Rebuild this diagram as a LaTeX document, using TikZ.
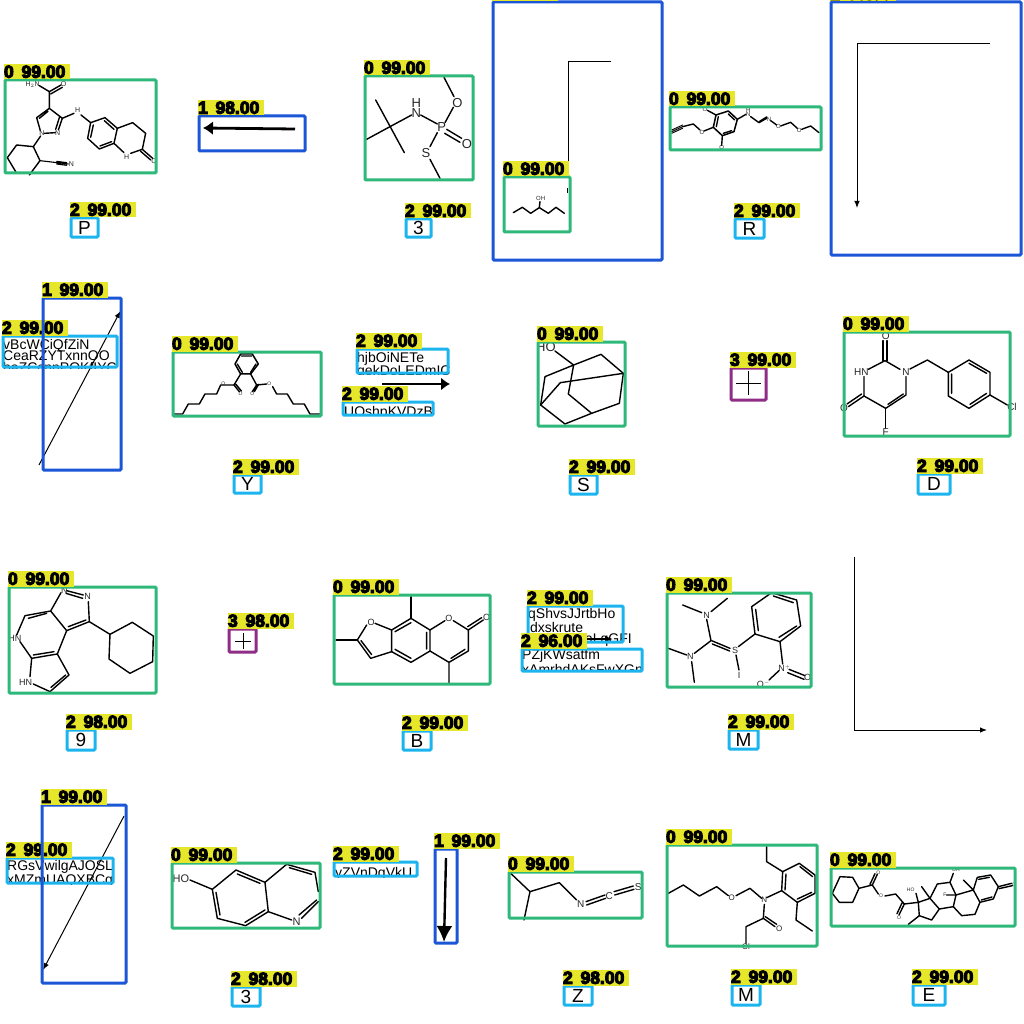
\documentclass[tikz,border=0pt]{standalone}
\usepackage{fontspec}
\setmainfont{Liberation Sans}
\newfontfamily\scorefont[FakeBold=6]{Liberation Sans Bold}
\usetikzlibrary{arrows.meta, positioning}
\definecolor{molgreen}{RGB}{46,184,122}
\definecolor{arrblue}{RGB}{26,86,214}
\definecolor{txtcyan}{RGB}{28,180,238}
\definecolor{plusviolet}{RGB}{142,44,134}
\definecolor{tagyellow}{RGB}{230,230,42}
\tikzset{%
  detect/.style={draw, line width=3pt, inner sep=0pt, outer sep=0pt, rounded corners=1pt},
  molbox/.style={detect, draw=molgreen},
  arrbox/.style={detect, draw=arrblue},
  txtbox/.style={detect, draw=txtcyan},
  plusbox/.style={detect, draw=plusviolet},
  scoretag/.style={fill=tagyellow, inner sep=0pt, outer sep=0pt, anchor=south west, xshift=-1pt, yshift=.5pt,
    minimum height=15.5pt, text width=66pt, align=left,
    font=\scorefont\fontsize{17.5}{17.5}\selectfont},
  letter/.style={inner sep=0pt, font=\fontsize{19}{19}\selectfont},
  txtline/.style={inner sep=0pt, anchor=base west, font=\fontsize{14}{14}\selectfont},
  atom/.style={inner sep=0pt, text=black!85, font=\fontsize{#1}{#1}\selectfont},
  crop/.style 2 args={shift={(#1,#2)}, x=0.3333pt, y=-0.3333pt},
  bond/.style={line width=#1, line cap=round, line join=round},
  bond/.default=1.4pt,
  thinarr/.style={line width=1pt, -{Latex[length=7pt,width=5.5pt]}}
}
% box from its corners, with the score tag sitting on its top left corner
\newcommand{\detbox}[7]{%
  \node[#2, minimum width={(#5-#3-2)*1pt}, minimum height={(#6-#4-2)*1pt}] (#1) at ({(#3+#5)/2},{(#4+#6)/2}) {};
  \node[scoretag] (#1t) at (#1.north west) {#7};
}
\begin{document}
\begin{tikzpicture}[x=1pt, y=-1pt]
\useasboundingbox[fill=white] (0,0) rectangle (1024,1024);

% row 1
\begin{scope}[crop={0}{50}, every node/.style={atom=7}]
\draw[bond] (118,107) -- (148,125) -- (183,105) (152,132) -- (187,112);
\draw[bond] (148,125) -- (148,175) -- (187,205) -- (175,240) (178,203) -- (167,238);
\draw[bond] (148,175) -- (110,203) -- (121,242) (144,184) -- (118,205);
\draw[bond] (166,248) -- (133,250);
\draw[bond] (187,205) -- (222,190) (243,195) -- (272,218);
\draw[bond] (272,218) -- (315,203) -- (352,235) -- (342,280) -- (298,297) -- (263,265) -- cycle;
\draw[bond] (313,212) -- (342,238) (335,275) -- (300,288) (280,225) -- (272,262);
\draw[bond] (352,235) -- (398,218) -- (437,250) -- (427,298) -- (392,310) (372,308) -- (342,280);
\draw[bond] (427,298) -- (458,325) (422,304) -- (452,330);
\draw[bond] (122,258) -- (100,290) -- (50,285) -- (22,323) -- (50,370) (88,375) -- (120,332) -- (100,290);
\draw[bond=1.1pt] (120,332) -- (205,342) (170,334) -- (200,338) (170,342) -- (200,346);
\node (m1a) at (98,105) {H$_{\scriptscriptstyle 2}$N};
\node (m1b) at (191,103) {O};
\node (m1c) at (126,250) {N};
\node (m1d) at (173,249) {N};
\node (m1e) at (233,180) {H};
\node (m1f) at (380,322) {H};
\node (m1g) at (462,332) {O};
\node (m1h) at (214,343) {N};
\end{scope}
\detbox{m1}{molbox}{4}{79}{157}{174}{0\hspace{2pt} 99.00}

\coordinate (a1s) at (295,129);
\coordinate (a1e) at (203,128);
\draw[line width=2.8pt, -{Latex[length=10pt,width=14pt]}] (a1s) -- (a1e);
\detbox{a1}{arrbox}{198}{115}{306}{152}{1\hspace{2pt} 98.00}

\detbox{l1}{txtbox}{70}{217}{99}{238}{2\hspace{2pt} 99.00}
\node[letter] (l1c) at (l1) {P};

\begin{scope}[crop={350}{0}, every node/.style={atom=13}]
\draw[bond] (77,300) -- (163,458) (50,418) -- (120,380) -- (185,345);
\draw[bond] (212,345) -- (262,372) (285,368) -- (310,322) (312,290) -- (282,232);
\draw[bond] (290,388) -- (335,415) (284,400) -- (330,427);
\draw[bond] (262,398) -- (240,440) (240,478) -- (270,535);
\node (m2a) at (199,338) {N};
\node (m2b) at (199,308) {H};
\node (m2c) at (275,382) {P};
\node (m2d) at (322,308) {O};
\node (m2e) at (351,432) {O};
\node (m2f) at (228,460) {S};
\end{scope}
\detbox{m2}{molbox}{364}{75}{474}{181}{0\hspace{2pt} 99.00}

\detbox{l2}{txtbox}{405}{218}{432}{238}{2\hspace{2pt} 99.00}
\node[letter] (l2c) at (l2) {3};

\coordinate (a2s) at (611,62);
\coordinate (a2m) at (568.5,62);
\coordinate (a2e) at (568.5,170);
\draw[line width=1pt] (a2s) -- (a2m) -- (a2e);
\detbox{a2}{arrbox}{492}{1}{663}{261}{}
\detbox{m3}{molbox, fill=white}{503}{176}{571}{233}{0\hspace{2pt} 99.00}
\coordinate (a2t) at (567.6,188);
\coordinate (a2u) at (567.6,193);
\draw[line width=1pt] (a2t) -- (a2u);
\begin{scope}[crop={350}{0}, every node/.style={atom=6}]
\draw[bond] (490,638) -- (517,622) -- (542,640) -- (568,623) -- (595,640) -- (618,622) -- (643,640);
\draw[bond] (568,623) -- (570,605);
\node (m3a) at (572,595) {OH};
\end{scope}

\begin{scope}[crop={660}{0}, every node/.style={atom=6}]
\draw[bond=.9pt] (35,390) -- (68,375) (35,395) -- (68,380) (35,400) -- (68,385);
\draw[bond] (68,380) -- (100,372) -- (120,390) (132,393) -- (160,382);
\draw[bond=1.5pt] (160,382) -- (168,345) -- (205,333) -- (232,358) -- (222,395) -- (187,407) -- cycle;
\draw[bond] (169,380) -- (175,350) (205,342) -- (224,360) (215,392) -- (190,400);
\draw[bond] (168,345) -- (142,331) (187,407) -- (185,436);
\draw[bond] (232,358) -- (258,343) (272,350) -- (297,368) -- (320,355) (299,364) -- (320,351);
\draw[bond] (332,362) -- (350,375) (362,378) -- (392,367) -- (412,385) (425,388) -- (452,378) -- (477,398);
\node (m4a) at (135,327) {O};
\node (m4b) at (126,396) {O};
\node (m4c) at (185,443) {O};
\node (m4d) at (265,343) {N};
\node (m4e) at (265,331) {H};
\node (m4f) at (327,357) {N};
\node (m4g) at (355,380) {O};
\node (m4h) at (418,392) {O};
\end{scope}
\detbox{m4}{molbox}{669}{106}{822}{151}{0\hspace{2pt} 99.00}

\detbox{l3}{txtbox}{734}{218}{765}{239}{2\hspace{2pt} 99.00}
\node[letter] (l3c) at (l3) {R};

\coordinate (a3s) at (990,44);
\coordinate (a3m) at (857,44);
\coordinate (a3e) at (857,208);
\draw[thinarr] (a3s) -- (a3m) -- (a3e);
\detbox{a3}{arrbox}{830}{1}{1022}{256}{1\hspace{2pt} 99.00}

% row 2
\begin{scope}
\clip (2,335) rectangle (118,368);
\node[txtline] (t1a) at (3,349) {vBcWCiQfZiN};
\node[txtline] (t1b) at (3,360) {CeaRZYTxnnOO};
\node[txtline] (t1c) at (3,372) {baZCcnnPQKfIYC};
\end{scope}
\coordinate (a4s) at (39,465);
\coordinate (a4e) at (120.5,311);
\draw[thinarr] (a4s) -- (a4e);
\detbox{t1}{txtbox}{2}{335}{118}{368}{2\hspace{2pt} 99.00}
\detbox{a4}{arrbox}{42}{297}{122}{471}{1\hspace{2pt} 99.00}

\begin{scope}[crop={0}{280}, every node/.style={atom=5}]
\draw[bond=1.5pt] (722,222) -- (757,222) -- (775,252) -- (752,282) -- (722,282) -- (705,252) -- cycle;
\draw[bond] (725,228) -- (755,228) (712,252) -- (727,277) (768,252) -- (752,277);
\draw[bond] (722,282) -- (702,315) -- (718,335) (708,313) -- (724,333);
\draw[bond] (702,315) -- (662,315) -- (650,342) -- (615,342) -- (598,372) -- (565,372) -- (548,402) -- (523,402);
\draw[bond] (752,282) -- (770,315) -- (757,335) (776,313) -- (763,335);
\draw[bond] (770,315) -- (800,312) (818,320) -- (830,342) -- (862,342) -- (880,372) -- (913,372) -- (930,402) -- (960,402);
\node (m5a) at (670,312) {O};
\node (m5b) at (722,342) {O};
\node (m5c) at (757,342) {O};
\node (m5d) at (808,312) {O};
\end{scope}
\detbox{m5}{molbox}{172}{351}{322}{417}{0\hspace{2pt} 99.00}

\detbox{l4}{txtbox}{233}{474}{262}{494}{2\hspace{2pt} 99.00}
\node[letter] (l4c) at (l4) {Y};

\begin{scope}
\clip (356,348) rectangle (449,374);
\node[txtline] (t2a) at (357,362) {hjbOiNETe};
\node[txtline] (t2b) at (357,375.5) {qekDoLEDmIC};
\end{scope}
\coordinate (a5s) at (382,384);
\coordinate (a5e) at (450,384);
\draw[line width=2pt, -{Latex[length=9pt,width=13pt]}] (a5s) -- (a5e);
\detbox{t2}{txtbox}{356}{348}{449}{374}{2\hspace{2pt} 99.00}
\begin{scope}
\clip (342,401) rectangle (434,415.5);
\node[txtline] (t3a) at (344,416) {UQshpKVDzB};
\end{scope}
\detbox{t3}{txtbox}{342}{401}{434}{416}{2\hspace{2pt} 99.00}

\begin{scope}[crop={335}{320}, every node/.style={atom=13}]
\draw[bond] (660,93) -- (716,135) -- (798,103) -- (865,160) -- (853,250) -- (770,280) -- (690,312) -- (617,255) -- (630,170) -- (716,135) -- (700,222) -- (770,280);
\draw[bond] (865,160) -- (676,188) -- (617,255);
\node (m6a) at (633,82) {HO};
\end{scope}
\detbox{m6}{molbox}{537}{341}{626}{427}{0\hspace{2pt} 99.00}

\detbox{l5}{txtbox}{569}{474}{598}{495}{2\hspace{2pt} 99.00}
\node[letter] (l5c) at (l5) {S};

\coordinate (p1a) at (736,383);
\coordinate (p1b) at (761,383);
\coordinate (p1c) at (748.5,371);
\coordinate (p1d) at (748.5,395);
\draw[line width=.8pt] (p1a) -- (p1b) (p1c) -- (p1d);
\detbox{p1}{plusbox}{730}{367}{767}{401}{3\hspace{2pt} 99.00}

\begin{scope}[crop={720}{310}, every node/.style={atom=10}]
\draw[bond] (540,178) -- (495,152) -- (445,178) (432,200) -- (432,258) -- (497,295) -- (558,255) -- (558,200);
\draw[bond] (489,152) -- (489,92) (501,152) -- (501,92);
\draw[bond] (504,283) -- (550,252);
\draw[bond] (432,258) -- (385,290) (425,252) -- (381,282);
\draw[bond] (497,295) -- (497,355);
\draw[bond] (570,177) -- (622,150) -- (685,187);
\draw[bond] (685,187) -- (747,150) -- (810,187) -- (810,255) -- (747,295) -- (685,258) -- cycle;
\draw[bond] (695,192) -- (695,250) (747,160) -- (800,190) (800,250) -- (750,283);
\draw[bond] (810,255) -- (862,285);
\node (m7a) at (558,186) {N};
\node (m7b) at (424,187) {HN};
\node (m7c) at (497,77) {O};
\node (m7d) at (372,295) {O};
\node (m7e) at (497,367) {F};
\node (m7f) at (876,292) {Cl};
\end{scope}
\detbox{m7}{molbox}{843}{331}{1011}{437}{0\hspace{2pt} 99.00}

\detbox{l6}{txtbox}{917}{473}{951}{495}{2\hspace{2pt} 99.00}
\node[letter] (l6c) at (l6) {D};

% row 3
\begin{scope}[crop={0}{560}, every node/.style={atom=9}]
\draw[bond] (183,98) -- (152,153) -- (75,167) -- (50,225) (60,245) -- (95,295) -- (172,282) -- (200,212) -- (152,153);
\draw[bond] (200,92) -- (250,105) (198,100) -- (248,115);
\draw[bond] (265,125) -- (268,185) -- (200,212) (258,180) -- (205,200);
\draw[bond] (140,160) -- (85,175) (100,285) -- (162,275);
\draw[bond] (172,282) -- (207,345) -- (150,395) -- (100,372) (90,350) -- (95,295) (197,345) -- (153,382);
\draw[bond] (268,185) -- (330,223);
\draw[bond] (330,223) -- (397,187) -- (460,228) -- (458,305) -- (390,340) -- (327,297) -- cycle;
\node (m8a) at (193,90) {N};
\node (m8b) at (263,110) {N};
\node (m8c) at (45,235) {HN};
\node (m8d) at (77,368) {HN};
\end{scope}
\detbox{m8}{molbox}{8}{586}{157}{694}{0\hspace{2pt} 99.00}

\coordinate (p2a) at (235,641);
\coordinate (p2b) at (251,641);
\coordinate (p2c) at (243,633);
\coordinate (p2d) at (243,649);
\draw[line width=.8pt] (p2a) -- (p2b) (p2c) -- (p2d);
\detbox{p2}{plusbox}{228}{628}{257}{653}{3\hspace{2pt} 98.00}

\detbox{l7}{txtbox}{66}{729}{96}{751}{2\hspace{2pt} 98.00}
\node[letter] (l7c) at (l7) {9};

\begin{scope}[crop={325}{570}, every node/.style={atom=9}]
\draw[bond] (125,165) -- (97,210) -- (137,265) -- (200,245) -- (200,180) -- (150,160);
\draw[bond] (108,212) -- (140,254);
\draw[bond] (200,180) -- (258,145) -- (315,180) -- (315,243) -- (258,277) -- (200,245);
\draw[bond] (210,185) -- (258,158) (305,187) -- (305,237) (258,265) -- (210,238);
\draw[bond] (97,210) -- (33,210) (258,145) -- (258,80);
\draw[bond] (315,180) -- (360,152) (385,152) -- (430,180) -- (475,150) (428,170) -- (470,143);
\draw[bond] (430,180) -- (430,243) -- (372,277) -- (315,243) (420,238) -- (378,265) (372,277) -- (372,338);
\node (m9a) at (138,157) {O};
\node (m9b) at (372,145) {O};
\node (m9c) at (485,143) {O};
\end{scope}
\detbox{m9}{molbox}{333}{594}{491}{685}{0\hspace{2pt} 99.00}

\detbox{l8}{txtbox}{402}{730}{432}{751}{2\hspace{2pt} 99.00}
\node[letter] (l8c) at (l8) {B};

\node[txtline] (t4a) at (528,618) {qShvsJJrtbHo};
\node[txtline] (t4b) at (530,632) {dxskrute};
\node[txtline, anchor=base east] (t4c) at (632,643) {oaLqGFI};
\coordinate (a6s) at (577,639);
\coordinate (a6e) at (613,639);
\draw[line width=1.8pt, -{Latex[length=8pt,width=7pt]}] (a6s) -- (a6e);
\detbox{t4}{txtbox}{527}{605}{624}{643}{2\hspace{2pt} 99.00}
\begin{scope}
\clip (521,648) rectangle (643,671.5);
\node[txtline] (t5a) at (522,659) {PZjKWsatfm};
\node[txtline] (t5b) at (522,674) {xAmrhdAKsFwXGn};
\end{scope}
\detbox{t5}{txtbox}{521}{648}{643}{672}{2\hspace{2pt} 96.00}

\begin{scope}[crop={655}{550}, every node/.style={atom=9}]
\draw[bond] (300,252) -- (290,170) -- (350,128) -- (425,150) -- (437,228) -- (375,275) -- cycle;
\draw[bond] (310,242) -- (302,178) (355,138) -- (415,158) (425,228) -- (372,262);
\draw[bond] (83,165) -- (140,188) (217,145) -- (168,185) (155,208) -- (168,272) -- (118,310);
\draw[bond] (170,272) -- (225,295) (172,282) -- (224,303);
\draw[bond] (40,295) -- (95,315) (110,335) -- (118,397);
\draw[bond] (250,290) -- (300,252) (243,315) -- (252,360) (375,275) -- (383,342);
\draw[bond] (372,362) -- (342,390) (402,358) -- (450,377) (398,368) -- (447,388);
\node (m10a) at (155,195) {N};
\node (m10b) at (106,320) {N};
\node (m10c) at (240,300) {S};
\node (m10d) at (252,377) {I};
\node (m10e) at (388,355) {N$^{\scriptscriptstyle +}$};
\node (m10f) at (325,403) {O$^{\scriptscriptstyle -}$};
\node (m10g) at (458,383) {O};
\end{scope}
\detbox{m10}{molbox}{666}{592}{812}{688}{0\hspace{2pt} 99.00}

\detbox{l9}{txtbox}{728}{729}{759}{750}{2\hspace{2pt} 99.00}
\node[letter] (l9c) at (l9) {M};

\coordinate (a7s) at (854.5,557);
\coordinate (a7m) at (854.5,730);
\coordinate (a7e) at (987,730);
\draw[thinarr] (a7s) -- (a7m) -- (a7e);

% row 4
\begin{scope}
\clip (6,857) rectangle (114,884);
\node[txtline] (t6a) at (7,870) {RGsVwilgAJOSL};
\node[txtline] (t6b) at (7,884.5) {xMZmUAQXBCq};
\end{scope}
\coordinate (a8s) at (124,816);
\coordinate (a8e) at (43,970);
\draw[thinarr] (a8s) -- (a8e);
\detbox{t6}{txtbox}{6}{857}{114}{884}{2\hspace{2pt} 99.00}
\detbox{a8}{arrbox}{41}{804}{127}{984}{1\hspace{2pt} 99.00}

\begin{scope}[crop={0}{785}, every node/.style={atom=11}]
\draw[bond] (570,285) -- (637,313);
\draw[bond] (637,313) -- (708,255) -- (795,292) -- (805,380) -- (737,422) -- (652,400) -- cycle;
\draw[bond] (712,267) -- (780,295) (795,375) -- (735,412) (660,390) -- (648,322);
\draw[bond] (795,292) -- (860,238) -- (945,262) -- (955,320) (868,248) -- (935,268);
\draw[bond] (805,380) -- (875,405) (905,400) -- (955,350) (897,390) -- (950,345);
\node (m11a) at (543,280) {HO};
\node (m11b) at (890,410) {N};
\end{scope}
\detbox{m11}{molbox}{171}{862}{321}{929}{0\hspace{2pt} 99.00}

\detbox{l10}{txtbox}{231}{986}{261}{1007}{2\hspace{2pt} 98.00}
\node[letter] (l10c) at (l10) {3};

\begin{scope}
\clip (333,861) rectangle (418,877);
\node[txtline] (t7a) at (335,877) {yZVnDqVkU};
\end{scope}
\detbox{t7}{txtbox}{333}{861}{418}{877}{2\hspace{2pt} 99.00}

\coordinate (a9s) at (446,858);
\coordinate (a9e) at (444,942);
\draw[line width=2.4pt, -{Latex[length=16pt,width=16pt]}] (a9s) -- (a9e);
\detbox{a9}{arrbox}{434}{848}{458}{944}{1\hspace{2pt} 99.00}

\begin{scope}[crop={330}{825}, every node/.style={atom=10}]
\draw[bond] (540,143) -- (600,200) -- (688,173) -- (740,225) (600,200) -- (582,285);
\draw[bond] (768,230) -- (825,210) (770,240) -- (827,220);
\draw[bond] (852,200) -- (910,183) (854,210) -- (912,193);
\node (m12a) at (752,238) {N};
\node (m12b) at (838,212) {C};
\node (m12c) at (925,185) {S};
\end{scope}
\detbox{m12}{molbox}{508}{871}{643}{919}{0\hspace{2pt} 99.00}

\detbox{l11}{txtbox}{563}{985}{593}{1006}{2\hspace{2pt} 98.00}
\node[letter] (l11c) at (l11) {Z};

\begin{scope}[crop={660}{825}, every node/.style={atom=8}]
\draw[bond] (25,205) -- (70,180) -- (118,213) -- (170,185) -- (205,212) (228,212) -- (270,190) -- (305,220) (320,218) -- (365,197);
\draw[bond] (365,197) -- (368,140) -- (418,115) -- (465,150) -- (465,205) -- (412,232) -- cycle;
\draw[bond] (375,195) -- (378,147) (420,125) -- (458,155) (455,202) -- (412,222);
\draw[bond] (368,140) -- (320,110) -- (320,65) (412,232) -- (408,285) -- (457,318);
\draw[bond] (313,238) -- (310,280) -- (345,305) (316,275) -- (350,298);
\draw[bond] (310,280) -- (258,305) -- (258,355);
\node (m13a) at (215,218) {O};
\node (m13b) at (313,225) {N};
\node (m13c) at (358,312) {O};
\node (m13d) at (258,365) {Cl};
\end{scope}
\detbox{m13}{molbox}{666}{844}{818}{947}{0\hspace{2pt} 99.00}

\detbox{l12}{txtbox}{731}{984}{761}{1006}{2\hspace{2pt} 99.00}
\node[letter] (l12c) at (l12) {M};

\begin{scope}[crop={660}{825}, every node/.style={atom=5}]
\draw[bond] (517,205) -- (540,155) -- (578,157) -- (597,190) -- (578,232) -- (538,232) -- cycle;
\draw[bond] (597,190) -- (637,180) -- (652,148) (630,178) -- (645,146);
\draw[bond] (637,180) -- (655,207) (675,213) -- (707,207) -- (733,237) -- (717,270) (726,234) -- (711,266);
\draw[bond] (733,237) -- (775,232) -- (768,205);
\draw[bond] (775,232) -- (810,220) -- (838,252) -- (815,285) -- (778,272) -- cycle;
\draw[bond] (778,272) -- (745,298) (810,220) -- (785,185);
\draw[bond] (810,220) -- (832,177) -- (870,172) -- (888,210) -- (880,245) -- (838,252);
\draw[bond] (870,172) -- (880,145) (860,210) -- (888,210);
\draw[bond] (888,210) -- (940,195) -- (910,165) (940,195) -- (960,232) -- (945,268) -- (905,272) -- (880,245);
\draw[bond] (940,195) -- (952,157) -- (992,150) -- (1015,185) -- (1000,222) -- (960,232);
\draw[bond] (956,163) -- (988,157) (996,216) -- (964,225);
\draw[bond] (1015,185) -- (1055,175) (1017,191) -- (1057,182);
\node (m14a) at (655,142) {O};
\node (m14b) at (663,213) {O};
\node (m14c) at (717,278) {O};
\node (m14d) at (752,193) {HO};
\node (m14e) at (888,135) {OH};
\node (m14f) at (855,210) {F};
\node (m14g) at (1062,178) {O};
\end{scope}
\detbox{m14}{molbox}{830}{867}{1016}{927}{0\hspace{2pt} 99.00}

\detbox{l13}{txtbox}{912}{984}{946}{1006}{2\hspace{2pt} 99.00}
\node[letter] (l13c) at (l13) {E};
\end{tikzpicture}
\end{document}
